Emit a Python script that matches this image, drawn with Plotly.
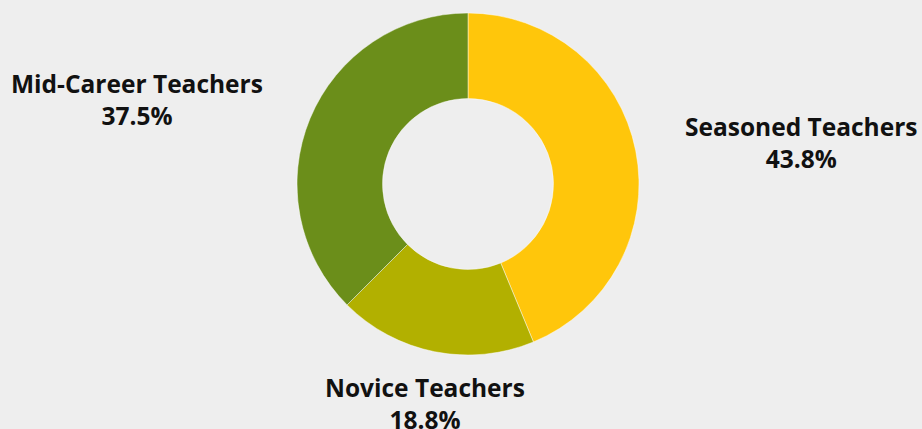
import plotly.graph_objects as go

labels = ["Seasoned Teachers", "Novice Teachers", "Mid-Career Teachers"]
values = [7, 3, 6]
colors = ["#FFC60B", "#B2B000", "#6B8E1A"]

W, H = 922, 429
cx, cy, r = 468, 184, 171
# label block centres in pixels (layout only)
label_pos = {"Seasoned Teachers": (801, 142),
             "Novice Teachers": (425, 403),
             "Mid-Career Teachers": (137, 99)}

total = sum(values)
fig = go.Figure(go.Pie(
    labels=labels, values=values, sort=False, direction="clockwise", rotation=0,
    hole=0.5, textinfo="none", hoverinfo="label+percent",
    marker=dict(colors=colors, line=dict(color="rgba(255,255,255,0.45)", width=1)),
    domain=dict(x=[(cx - r) / W, (cx + r) / W], y=[(H - cy - r) / H, (H - cy + r) / H]),
    showlegend=False,
))

for lab, v in zip(labels, values):
    px, py = label_pos[lab]
    fig.add_annotation(
        x=px / W, y=1 - py / H, xref="paper", yref="paper",
        xanchor="center", yanchor="middle", showarrow=False,
        text=f"<b>{lab}<br>{100 * v / total:.1f}%</b>",
        font=dict(family="Open Sans", size=24.5, color="#111111"),
    )

fig.update_layout(
    width=W, height=H, margin=dict(l=0, r=0, t=0, b=0),
    paper_bgcolor="#EEEEEE", plot_bgcolor="#EEEEEE",
)
fig.write_html("out.html")
